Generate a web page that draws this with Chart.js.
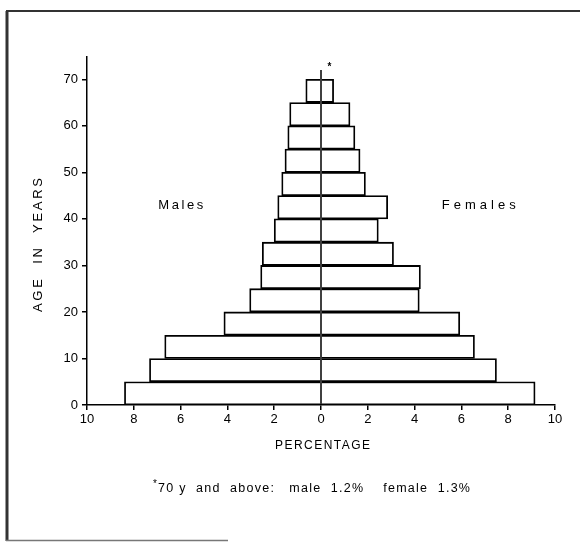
<!DOCTYPE html>
<html><head><meta charset="utf-8">
<script src="https://cdn.jsdelivr.net/npm/chart.js@4/dist/chart.umd.min.js"></script>
<style>html,body{margin:0;padding:0;background:#fff;}#wrap{width:580px;height:542px;position:relative;}</style>
</head><body><div id="wrap"><canvas id="c" width="580" height="542"></canvas></div>
<script>
// Age groups (5-year bands) and their midpoints on the age axis
const ageGroups = ['0-4','5-9','10-14','15-19','20-24','25-29','30-34','35-39','40-44','45-49','50-54','55-59','60-64','65-69'];
const ageMidpoints = [2.5, 7.5, 12.5, 17.5, 22.5, 27.5, 32.5, 37.5, 42.5, 47.5, 52.5, 57.5, 62.5, 67.5];
// Percentages
const malePct   = [8.4, 7.33, 6.68, 4.15, 3.05, 2.58, 2.51, 2.0, 1.85, 1.68, 1.54, 1.42, 1.34, 0.65];
const femalePct = [9.15, 7.5, 6.56, 5.93, 4.2, 4.25, 3.1, 2.45, 2.85, 1.9, 1.67, 1.45, 1.24, 0.54];
// Axis ticks
const xTicks = [-10, -8, -6, -4, -2, 0, 2, 4, 6, 8, 10];
const yTicks = [0, 10, 20, 30, 40, 50, 60, 70];
// Zero divider line (percentage 0) from age 0 to top
const zeroLineAges = [0, 72];
// Texts
const yTitle = 'AGE  IN  YEARS';
const xTitle = 'PERCENTAGE';
const maleLabel = 'Males';
const femaleLabel = 'Females';
const footnoteText = '70 y  and  above:   male  1.2%    female  1.3%';

const FONT = '"Liberation Sans", Arial, sans-serif';

function fitText(ctx, text, x, y, width) {
  ctx.letterSpacing = '0px';
  const w = ctx.measureText(text).width;
  const sp = (width - w) / Math.max(1, text.length - 1);
  ctx.letterSpacing = sp.toFixed(2) + 'px';
  ctx.fillText(text, x, y);
  ctx.letterSpacing = '0px';
}

const decor = {
  id: 'decor',
  afterDraw(chart) {
    const ctx = chart.ctx;
    const xs = chart.scales.x, ys = chart.scales.y;
    ctx.save();
    // frame
    ctx.strokeStyle = '#333';
    ctx.lineWidth = 3;
    ctx.beginPath(); ctx.moveTo(7, 11); ctx.lineTo(7, 541); ctx.stroke();
    ctx.lineWidth = 2;
    ctx.beginPath(); ctx.moveTo(6, 11); ctx.lineTo(580, 11); ctx.stroke();
    ctx.strokeStyle = '#777';
    ctx.lineWidth = 1.5;
    ctx.beginPath(); ctx.moveTo(6, 540.5); ctx.lineTo(228, 540.5); ctx.stroke();

    ctx.fillStyle = '#000';
    ctx.textBaseline = 'middle';
    ctx.textAlign = 'left';
    // y title
    ctx.save();
    ctx.translate(38, 312);
    ctx.rotate(-Math.PI / 2);
    ctx.font = '13px ' + FONT;
    fitText(ctx, yTitle, 0, 0, 134);
    ctx.restore();
    // x title
    ctx.font = '12px ' + FONT;
    fitText(ctx, xTitle, 275, 446, 95);
    // Males / Females
    ctx.font = '13px ' + FONT;
    fitText(ctx, maleLabel, xs.getPixelForValue(-6.95), ys.getPixelForValue(43), 45);
    fitText(ctx, femaleLabel, xs.getPixelForValue(5.16), ys.getPixelForValue(43), 74);
    // asterisk near top of the pyramid
    ctx.textAlign = 'center';
    ctx.font = 'bold 10px ' + FONT;
    ctx.fillText('*', xs.getPixelForValue(0.36), ys.getPixelForValue(72.6));
    // footnote
    ctx.textAlign = 'left';
    ctx.font = '12.5px ' + FONT;
    fitText(ctx, footnoteText, 158, 489, 312);
    ctx.font = '10px ' + FONT;
    ctx.fillText('*', 153, 484);
    ctx.restore();
  }
};

new Chart(document.getElementById('c'), {
  type: 'bar',
  data: {
    datasets: [
      {
        label: 'Males',
        data: ageMidpoints.map((a, i) => ({ x: -malePct[i], y: a })),
        backgroundColor: '#fff', borderColor: '#000', borderWidth: 1.8,
        borderSkipped: 'start', grouped: false,
        barPercentage: 1, categoryPercentage: 1, order: 2
      },
      {
        label: 'Females',
        data: ageMidpoints.map((a, i) => ({ x: femalePct[i], y: a })),
        backgroundColor: '#fff', borderColor: '#000', borderWidth: 1.8,
        borderSkipped: 'start', grouped: false,
        barPercentage: 1, categoryPercentage: 1, order: 2
      },
      {
        type: 'line',
        label: 'zero',
        data: zeroLineAges.map(a => ({ x: 0, y: a })),
        borderColor: '#000', borderWidth: 1.5, pointRadius: 0, fill: false, order: 0
      }
    ]
  },
  options: {
    indexAxis: 'y',
    responsive: false,
    animation: false,
    devicePixelRatio: 1,
    layout: { padding: { left: 0, right: 25, top: 57, bottom: 0 } },
    plugins: { legend: { display: false }, tooltip: { enabled: false } },
    scales: {
      x: {
        type: 'linear', min: -10, max: 10, offset: false,
        afterBuildTicks: s => { s.ticks = xTicks.map(v => ({ value: v })); },
        afterFit: s => { s.height = 137; },
        ticks: { callback: v => Math.abs(v), color: '#000', font: { size: 13, family: FONT }, padding: 2, maxRotation: 0, autoSkip: false },
        grid: { display: true, offset: false, drawOnChartArea: false, drawTicks: true, tickLength: 5, color: '#000', lineWidth: 1.5 },
        border: { display: true, color: '#000', width: 1.5 }
      },
      y: {
        type: 'linear', min: 0, max: 74.8, offset: false,
        afterBuildTicks: s => { s.ticks = yTicks.map(v => ({ value: v })); },
        afterFit: s => { s.width = 87; },
        ticks: { color: '#000', font: { size: 13, family: FONT }, padding: 4, autoSkip: false },
        grid: { display: true, offset: false, drawOnChartArea: false, drawTicks: true, tickLength: 5, color: '#000', lineWidth: 1.5 },
        border: { display: true, color: '#000', width: 1.5 }
      }
    }
  },
  plugins: [decor]
});
</script></body></html>
